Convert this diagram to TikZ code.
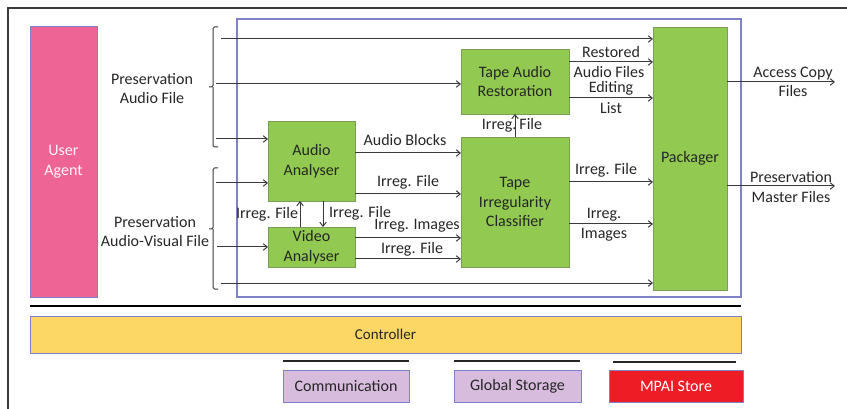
\documentclass[tikz,border=0pt]{standalone}
\usepackage{fontspec}
\setmainfont{Carlito}
\usetikzlibrary{arrows.meta}
\definecolor{gfill}{HTML}{92C950}
\definecolor{gdraw}{HTML}{7A9E5A}
\definecolor{pinkc}{HTML}{EE6494}
\definecolor{bluec}{HTML}{8080C8}
\definecolor{yellowc}{HTML}{FCD766}
\definecolor{lilac}{HTML}{D7BCDD}
\definecolor{redc}{HTML}{EE1C25}
\definecolor{linec}{HTML}{3A3A3A}
\tikzset{
  every node/.style={inner sep=0pt, outer sep=0pt},
  lbl/.style={font=\fontsize{16}{19.5}\selectfont, align=center, text=black!85},
  gbox/.style={draw=gdraw, fill=gfill, line width=0.9pt, anchor=north west, lbl},
  arr/.style={draw=linec, line width=1pt, -{Straight Barb[length=4pt,width=6.5pt]}},
  brace/.style={draw=linec, line width=1pt, rounded corners=1.5pt},
  bbox/.style={draw=bluec, line width=0.9pt, anchor=north west, font=\fontsize{16}{19}\selectfont, text=black!85},
}
\begin{document}
\begin{tikzpicture}[x=1pt,y=-1pt]
\useasboundingbox (0,0) rectangle (847,409);
% frame
\draw[draw=linec, line width=1.8pt] (847,8) -- (8,8) -- (8,409);
% system box
\node[draw=bluec, line width=1.1pt, minimum width=504pt, minimum height=278pt, anchor=north west] (sys) at (237,19) {};
% user agent
\node[draw=bluec, fill=pinkc, line width=0.8pt, minimum width=67pt, minimum height=271pt, anchor=north west, lbl, text=white!88!pink] (ua) at (30,26) {User\\Agent};
% green boxes
\node[gbox, minimum width=87pt, minimum height=80pt] (aa) at (268,121) {Audio\\Analyser};
\node[gbox, minimum width=87pt, minimum height=40pt] (va) at (268,227) {Video\\Analyser};
\node[gbox, minimum width=108pt, minimum height=65pt] (tar) at (461,49) {Tape Audio\\Restoration};
\node[gbox, minimum width=108pt, minimum height=130pt] (tic) at (461,137) {Tape\\Irregularity\\Classifier};
\node[gbox, minimum width=74pt, minimum height=263pt] (pk) at (653,27) {Packager};
% input labels
\node[lbl] (pal) at (152,88.5) {Preservation\\Audio File};
\node[lbl] (pavl) at (155,231.5) {Preservation\\Audio-Visual File};
% braces
\draw[brace] (218,27) -- (213,27) -- (213,87) -- (209,87) (213,87) -- (213,147) -- (218,147);
\draw[brace] (218,168) -- (213,168) -- (213,229) -- (209,229) (213,229) -- (213,289) -- (218,289);
% y-levels
\coordinate (s1) at (221,39);
\coordinate (s2) at (216,84);
\coordinate (s3) at (216,139);
\coordinate (s4) at (216,183);
\coordinate (s5) at (217,247);
\coordinate (s6) at (221,283);
\draw[arr] (s1) -- (pk.west |- s1);
\draw[arr] (s2) -- (tar.west |- s2);
\draw[arr] (s3) -- (aa.west |- s3);
\draw[arr] (s4) -- (aa.west |- s4);
\draw[arr] (s5) -- (va.west |- s5);
\draw[arr] (s6) -- (pk.west |- s6);
% analyser interconnections
\coordinate (xu) at (300,0);
\coordinate (xd) at (323,0);
\draw[arr] (va.north -| xu) -- (aa.south -| xu);
\draw[arr] (aa.south -| xd) -- (va.north -| xd);
\node[lbl] at (267,214) {Irreg. File};
\node[lbl] at (360,213) {Irreg. File};
% analysers to classifier
\coordinate (y1) at (0,153);
\coordinate (y2) at (0,194);
\coordinate (y3) at (0,238);
\coordinate (y4) at (0,259);
\draw[arr] (aa.east |- y1) -- (tic.west |- y1);
\draw[arr] (aa.east |- y2) -- (tic.west |- y2);
\draw[arr] (va.east |- y3) -- (tic.west |- y3);
\draw[arr] (va.east |- y4) -- (tic.west |- y4);
\node[lbl] at (405,140) {Audio Blocks};
\node[lbl] at (408,182) {Irreg. File};
\node[lbl] at (417,226) {Irreg. Images};
\node[lbl] at (412,249.5) {Irreg. File};
% classifier to restoration
\node[lbl] at (512,125.5) {Irreg.\hspace{3pt}File};
\coordinate (xc) at (515,0);
\draw[arr] (tic.north -| xc) -- (tar.south -| xc);
% restoration to packager
\coordinate (y5) at (0,62);
\coordinate (y6) at (0,98);
\draw[arr] (tar.east |- y5) -- (pk.west |- y5);
\draw[arr] (tar.east |- y6) -- (pk.west |- y6);
\node[lbl] at (611,52) {Restored};
\node[lbl] at (609,72) {Audio Files};
\node[lbl] at (611,88) {Editing};
\node[lbl] at (611,108) {List};
% classifier to packager
\coordinate (y7) at (0,182);
\coordinate (y8) at (0,224);
\draw[arr] (tic.east |- y7) -- (pk.west |- y7);
\draw[arr] (tic.east |- y8) -- (pk.west |- y8);
\node[lbl] at (606,170) {Irreg. File};
\node[lbl] at (604,224.5) {Irreg.\\Images};
% outputs
\coordinate (o1) at (835,82);
\coordinate (o2) at (835,186);
\draw[arr] (pk.east |- o1) -- (o1);
\draw[arr] (pk.east |- o2) -- (o2);
\node[lbl] at (793,82) {Access Copy\\Files};
\node[lbl] at (791,187) {Preservation\\Master Files};
% bottom layer
\draw[draw=black, line width=2.6pt] (30,306) -- (741,306);
\node[bbox, fill=yellowc, minimum width=711pt, minimum height=37pt, font=\fontsize{15}{18}\selectfont] (ctl) at (30,316) {Controller};
\node[bbox, fill=lilac, minimum width=126pt, minimum height=32pt] (com) at (283,370) {Communication};
\node[bbox, fill=lilac, minimum width=127pt, minimum height=32pt] (gs) at (454,370) {Global Storage};
\node[bbox, fill=redc, minimum width=134pt, minimum height=32pt, text=white] (ms) at (609,370) {MPAI Store};
\draw[draw=black!85, line width=1.8pt] (283,361) -- (409,361);
\draw[draw=black!85, line width=1.8pt] (454,361) -- (580,361);
\draw[draw=black!85, line width=1.8pt] (613,362) -- (736,362);
\end{tikzpicture}
\end{document}
